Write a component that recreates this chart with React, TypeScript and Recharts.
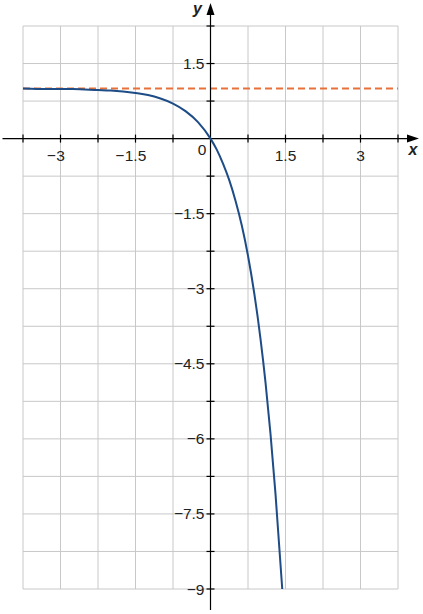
import React from 'react';
import {
  ComposedChart,
  XAxis,
  YAxis,
  CartesianGrid,
  Line,
  ReferenceLine,
  ReferenceDot,
} from 'recharts';

// ---- data ----
const curveX = [-3.75, -3.25, -2.75, -2.25, -2, -1.75, -1.5, -1.25, -1, -0.75, -0.5, -0.25, 0, 0.125, 0.25, 0.375, 0.5, 0.625, 0.75, 0.875, 1, 1.1, 1.2, 1.3, 1.435];
const curveY = [1.0, 0.99, 0.99, 0.97, 0.96, 0.94, 0.91, 0.87, 0.8, 0.7, 0.55, 0.33, 0, -0.22, -0.5, -0.83, -1.24, -1.73, -2.34, -3.09, -4, -4.87, -5.9, -7.1, -9];
const asymptoteX = [-3.75, 3.75];
const asymptoteY = [1, 1];

const xDomain = [-3.75, 3.75];
const yDomain = [-9, 2.25];
const gridX = [-3.75, -3, -2.25, -1.5, -0.75, 0, 0.75, 1.5, 2.25, 3, 3.75];
const gridY = [2.25, 1.5, 0.75, 0, -0.75, -1.5, -2.25, -3, -3.75, -4.5, -5.25, -6, -6.75, -7.5, -8.25, -9];
const xLabelTicks = [-3, -1.5, 1.5, 3];
const yLabelTicks = [1.5, -1.5, -3, -4.5, -6, -7.5, -9];

// axis extents (data units) including arrows
const xAxisStart = -4.16;
const xAxisTip = 4.17;
const yAxisStart = -9.42;
const yAxisTip = 2.71;

const curveData = curveX.map((x, i) => ({ x, y: curveY[i] }));
const asymptoteData = asymptoteX.map((x, i) => ({ x, y: asymptoteY[i] }));

const FONT = '"Liberation Sans", Arial, Helvetica, sans-serif';
const FS = 15.5;
const fmt = (v: number) => (v < 0 ? `\u2212${Math.abs(v)}` : `${v}`);
// approximate advance width of a digit string in Liberation Sans
const textWidth = (s: string) =>
  s.split('').reduce((w, c) => w + (c === '.' ? 0.278 : 0.556), 0) * FS;

const XTickLabel = ({ cx, cy, v }: { cx: number; cy: number; v: number }) => {
  const abs = `${Math.abs(v)}`;
  const w = textWidth(abs);
  return (
    <g fontFamily={FONT} fontSize={FS} fill="#222">
      <text x={cx} y={cy + 17} textAnchor="middle" dominantBaseline="central">
        {abs}
      </text>
      {v < 0 && (
        <text x={cx - w / 2 - 0.5} y={cy + 17} textAnchor="end" dominantBaseline="central">
          {'\u2212'}
        </text>
      )}
    </g>
  );
};

export default function App() {
  return (
    <div style={{ position: 'absolute', left: 0, top: 0, width: 423, height: 614, background: '#fff' }}>
      <ComposedChart
        width={423}
        height={614}
        margin={{ top: 26, right: 25, bottom: 25, left: 23 }}
      >
        <XAxis type="number" dataKey="x" domain={xDomain} ticks={gridX} hide allowDataOverflow />
        <YAxis type="number" dataKey="y" domain={yDomain} ticks={gridY} hide allowDataOverflow />
        <CartesianGrid
          stroke="#c8c8c8"
          strokeWidth={1}
          horizontalValues={gridY}
          verticalValues={gridX}
        />
        <Line
          data={asymptoteData}
          dataKey="y"
          type="linear"
          stroke="#e8703a"
          strokeWidth={2}
          strokeDasharray="7 4"
          dot={false}
          activeDot={false}
          isAnimationActive={false}
        />
        <ReferenceLine
          segment={[{ x: xAxisStart, y: 0 }, { x: xAxisTip - 0.2, y: 0 }]}
          stroke="#000"
          strokeWidth={1.2}
          ifOverflow="visible"
        />
        <ReferenceLine
          segment={[{ x: 0, y: yAxisStart }, { x: 0, y: yAxisTip - 0.2 }]}
          stroke="#000"
          strokeWidth={1.2}
          ifOverflow="visible"
        />
        {gridX.filter((t) => t !== 0).map((t) => (
          <ReferenceDot
            key={`xt${t}`}
            x={t}
            y={0}
            r={0}
            ifOverflow="visible"
            shape={(p: any) => (
              <g>
                <line x1={p.cx} y1={p.cy - 4} x2={p.cx} y2={p.cy + 4} stroke="#000" strokeWidth={1.2} />
                {xLabelTicks.includes(t) && <XTickLabel cx={p.cx} cy={p.cy} v={t} />}
              </g>
            )}
          />
        ))}
        {gridY.filter((t) => t !== 0).map((t) => (
          <ReferenceDot
            key={`yt${t}`}
            x={0}
            y={t}
            r={0}
            ifOverflow="visible"
            shape={(p: any) => (
              <g>
                <line x1={p.cx - 4} y1={p.cy} x2={p.cx + 4} y2={p.cy} stroke="#000" strokeWidth={1.2} />
                {yLabelTicks.includes(t) && (
                  <text
                    x={p.cx - 6}
                    y={p.cy}
                    textAnchor="end"
                    dominantBaseline="central"
                    fontFamily={FONT}
                    fontSize={FS}
                    fill="#222"
                  >
                    {fmt(t)}
                  </text>
                )}
              </g>
            )}
          />
        ))}
        <ReferenceDot
          x={0}
          y={0}
          r={0}
          ifOverflow="visible"
          shape={(p: any) => (
            <text
              x={p.cx - 8.5}
              y={p.cy + 11}
              textAnchor="middle"
              dominantBaseline="central"
              fontFamily={FONT}
              fontSize={FS}
              fill="#222"
            >
              0
            </text>
          )}
        />
        <ReferenceDot
          x={xAxisTip}
          y={0}
          r={0}
          ifOverflow="visible"
          shape={(p: any) => (
            <g>
              <polygon
                points={`${p.cx},${p.cy} ${p.cx - 12},${p.cy - 4} ${p.cx - 12},${p.cy + 4}`}
                fill="#000"
              />
              <text
                x={p.cx - 6}
                y={p.cy + 11}
                textAnchor="middle"
                dominantBaseline="central"
                fontFamily={FONT}
                fontSize={16}
                fontStyle="italic"
                fontWeight="bold"
                fill="#222"
              >
                x
              </text>
            </g>
          )}
        />
        <ReferenceDot
          x={0}
          y={yAxisTip}
          r={0}
          ifOverflow="visible"
          shape={(p: any) => (
            <g>
              <polygon
                points={`${p.cx},${p.cy} ${p.cx - 4},${p.cy + 12} ${p.cx + 4},${p.cy + 12}`}
                fill="#000"
              />
              <text
                x={p.cx - 13}
                y={p.cy + 6}
                textAnchor="middle"
                dominantBaseline="central"
                fontFamily={FONT}
                fontSize={16}
                fontStyle="italic"
                fontWeight="bold"
                fill="#222"
              >
                y
              </text>
            </g>
          )}
        />
        <Line
          data={curveData}
          dataKey="y"
          type="monotone"
          stroke="#1d4c87"
          strokeWidth={2}
          dot={false}
          activeDot={false}
          isAnimationActive={false}
        />
      </ComposedChart>
    </div>
  );
}
